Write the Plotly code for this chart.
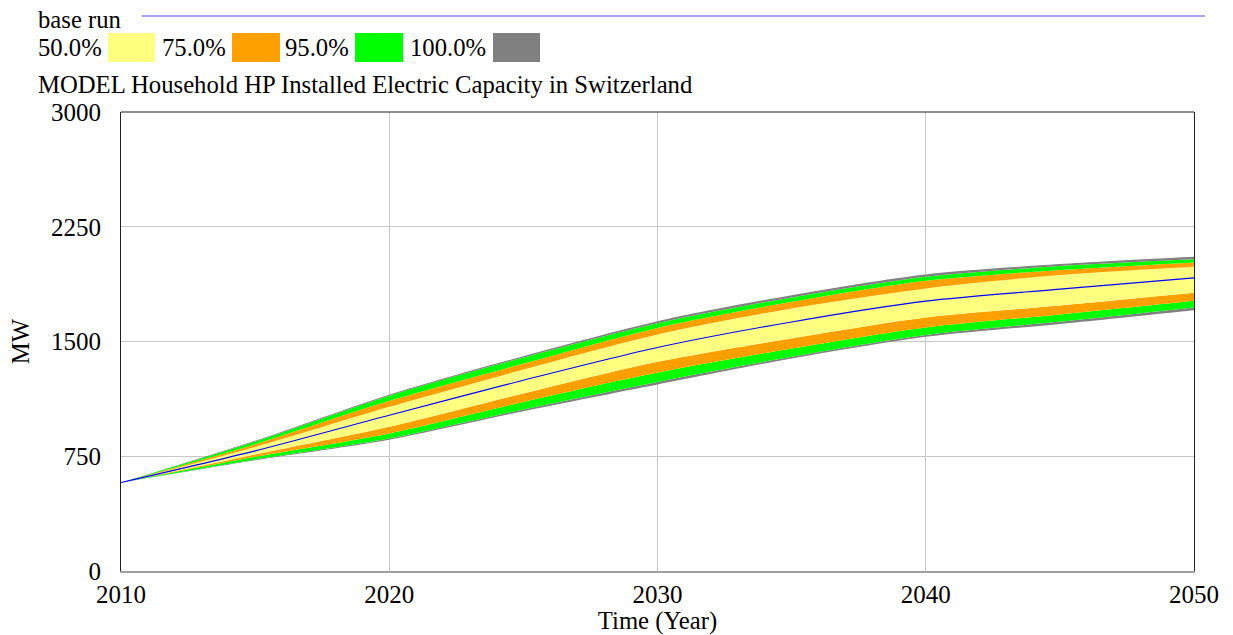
import plotly.graph_objects as go

# ---- data ----
years = [2010, 2015, 2020, 2025, 2030, 2035, 2040, 2045, 2050]
base_run = [578, 785, 1018, 1247, 1461, 1628, 1764, 1842, 1916]
p100_hi = [578, 851, 1152, 1404, 1633, 1803, 1938, 2006, 2054]
p95_hi = [578, 846, 1146, 1396, 1620, 1788, 1923, 1993, 2037]
p75_hi = [578, 829, 1112, 1356, 1589, 1759, 1897, 1967, 2017]
p50_hi = [578, 811, 1073, 1317, 1546, 1716, 1847, 1934, 1988]
p50_lo = [578, 761, 942, 1160, 1367, 1520, 1657, 1735, 1818]
p75_lo = [578, 746, 899, 1105, 1297, 1454, 1592, 1677, 1766]
p95_lo = [578, 729, 866, 1056, 1236, 1400, 1542, 1630, 1723]
p100_lo = [578, 724, 858, 1044, 1219, 1389, 1531, 1615, 1705]

legend_labels = ["50.0%", "75.0%", "95.0%", "100.0%"]
band_colors = ["#FFFF80", "#FFA000", "#00FF00", "#808080"]
x_ticks = [2010, 2020, 2030, 2040, 2050]
y_ticks = [0, 750, 1500, 2250, 3000]

FONT = "Liberation Serif"
FS = 24.7
TFS = 25
W, H = 1233, 635
L, R, T, B = 121, 39, 112, 64
PW, PH = W - L - R, H - T - B


def px(x):
    return (x - L) / PW


def py(y):
    return (H - B - y) / PH


fig = go.Figure()

# order from bottom to top; fill colour = band between previous and current
series = [
    (p100_lo, None),
    (p95_lo, band_colors[3]),
    (p75_lo, band_colors[2]),
    (p50_lo, band_colors[1]),
    (p50_hi, band_colors[0]),
    (p75_hi, band_colors[1]),
    (p95_hi, band_colors[2]),
    (p100_hi, band_colors[3]),
]
for vals, col in series:
    fig.add_trace(go.Scatter(
        x=years, y=vals, mode="lines",
        line=dict(width=0, shape="spline", smoothing=0.8),
        fill=None if col is None else "tonexty",
        fillcolor=col, showlegend=False, hoverinfo="skip",
    ))

fig.add_trace(go.Scatter(
    x=years, y=base_run, mode="lines",
    line=dict(color="#0000FF", width=1.1, shape="spline", smoothing=0.8),
    showlegend=False,
))

shapes = []
annotations = []

# top legend: base run line
annotations.append(dict(x=px(36), y=py(19), xref="paper", yref="paper",
                        text="base run", showarrow=False, xanchor="left",
                        yanchor="middle", font=dict(family=FONT, size=FS, color="black")))
shapes.append(dict(type="line", xref="paper", yref="paper",
                   x0=px(142), x1=px(1205), y0=py(16), y1=py(16),
                   line=dict(color="#5050E0", width=1)))

text_x = [36, 160, 283, 408]
sw_x = [(108, 155), (232, 280), (355, 403), (493, 540)]
for lab, col, tx, (s0, s1) in zip(legend_labels, band_colors, text_x, sw_x):
    annotations.append(dict(x=px(tx), y=py(47), xref="paper", yref="paper",
                            text=lab, showarrow=False, xanchor="left",
                            yanchor="middle", font=dict(family=FONT, size=FS, color="black")))
    shapes.append(dict(type="rect", xref="paper", yref="paper",
                       x0=px(s0), x1=px(s1), y0=py(62), y1=py(33),
                       fillcolor=col, line=dict(width=0)))

annotations.append(dict(x=px(36), y=py(84), xref="paper", yref="paper",
                        text="MODEL Household HP Installed Electric Capacity in Switzerland",
                        showarrow=False, xanchor="left", yanchor="middle",
                        font=dict(family=FONT, size=FS, color="black")))

# top border of plot frame
shapes.append(dict(type="line", xref="paper", yref="paper", x0=0, x1=1, y0=1, y1=1,
                   line=dict(color="#202020", width=1)))

fig.update_layout(
    width=W, height=H,
    margin=dict(l=L, r=R, t=T, b=B),
    paper_bgcolor="white", plot_bgcolor="white",
    font=dict(family=FONT, size=FS, color="black"),
    shapes=shapes, annotations=annotations,
    xaxis=dict(
        range=[2010, 2050], tickvals=x_ticks, ticktext=[str(v) for v in x_ticks],
        showgrid=True, gridcolor="#C8C8C8", gridwidth=1,
        showline=True, linecolor="#A0A0A0", linewidth=2, mirror=False,
        ticks="", zeroline=False, automargin=False,
        title=dict(text="Time (Year)", font=dict(family=FONT, size=FS), standoff=2),
        tickfont=dict(family=FONT, size=TFS),
    ),
    yaxis=dict(
        range=[0, 3000], tickvals=y_ticks, ticktext=[str(v) for v in y_ticks],
        showgrid=True, gridcolor="#C8C8C8", gridwidth=1,
        showline=True, linecolor="#202020", linewidth=1, mirror=True,
        ticks="", zeroline=False, ticklabelstandoff=14, automargin=False,
        title=dict(text="MW", font=dict(family=FONT, size=FS), standoff=14),
        tickfont=dict(family=FONT, size=TFS),
    ),
)

fig.write_html("out.html")
